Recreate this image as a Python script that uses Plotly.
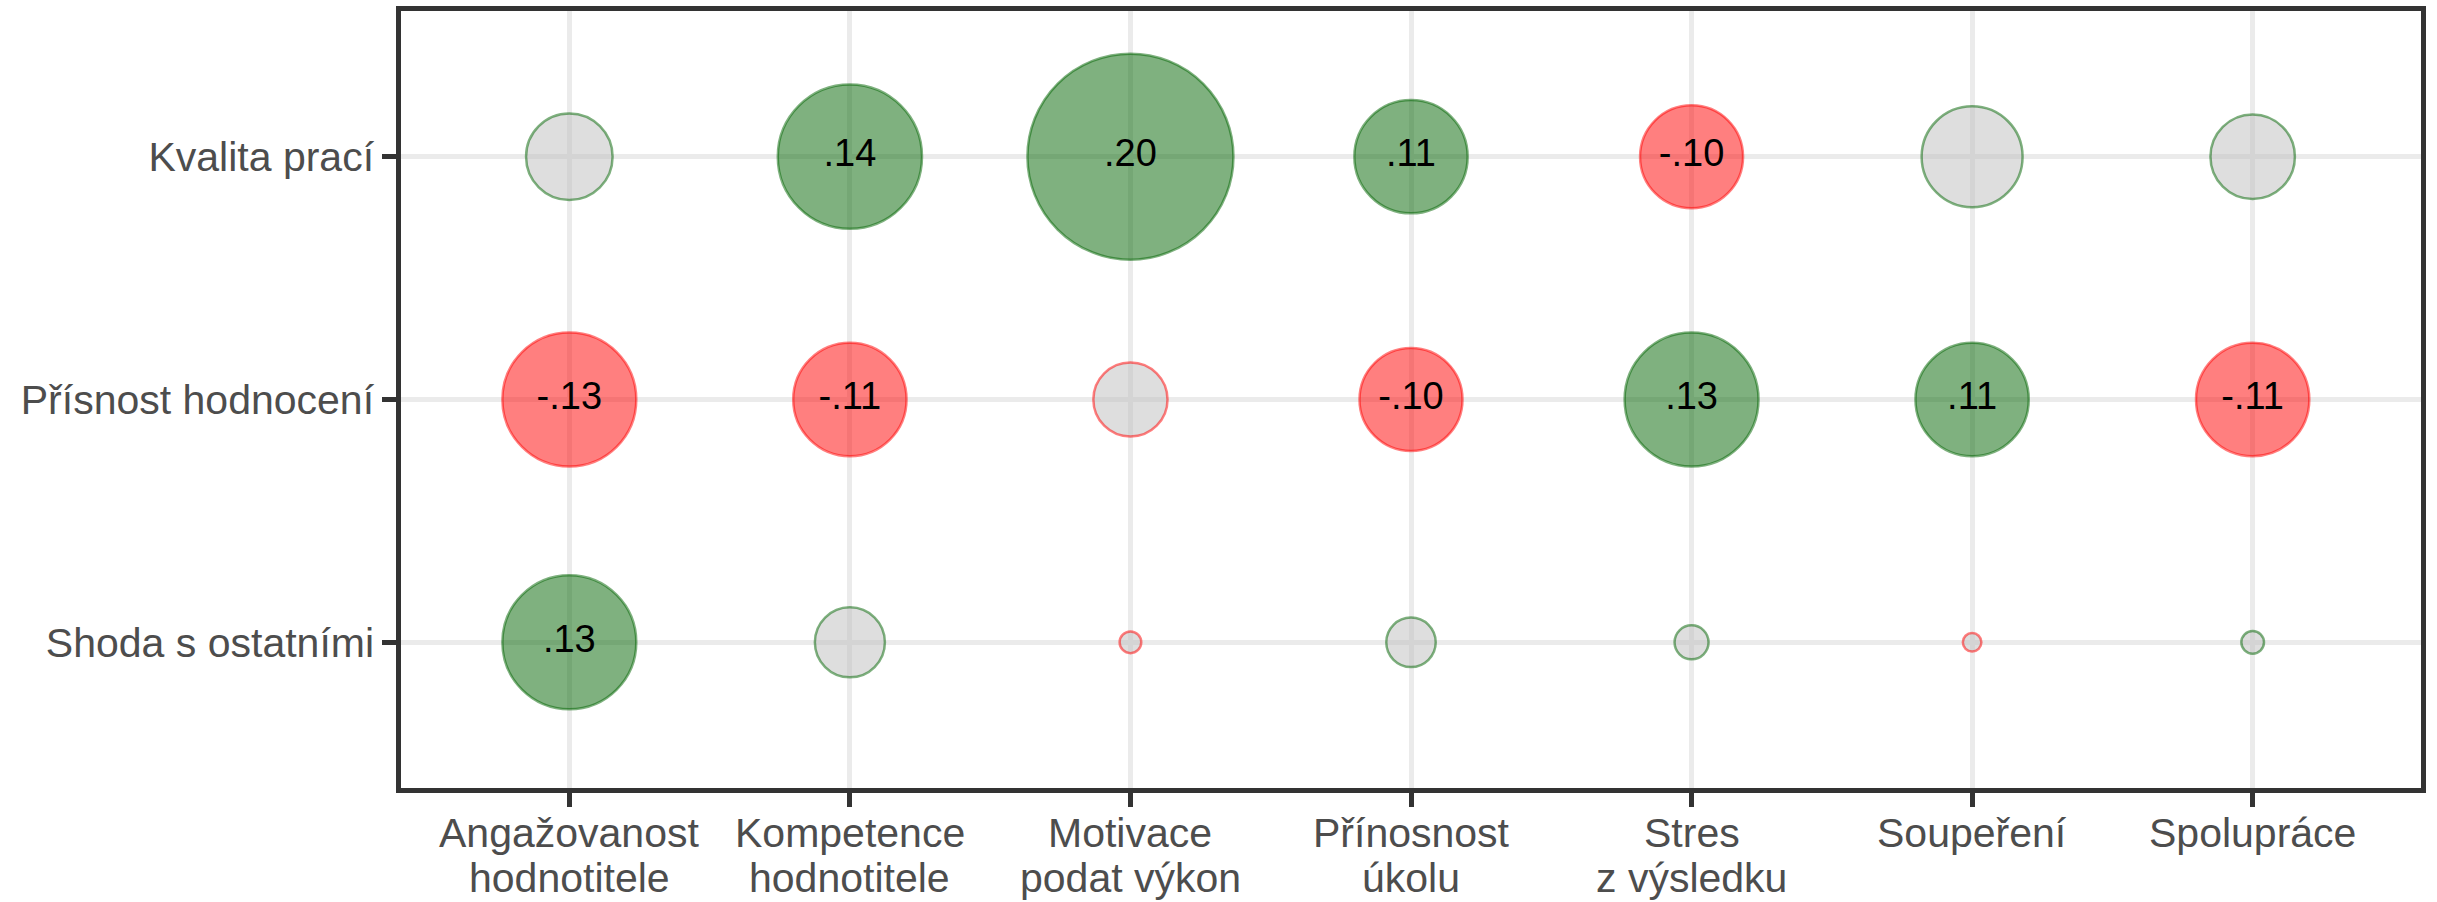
import plotly.graph_objects as go

# Predictors (columns) and outcomes (rows, listed top to bottom)
predictors = [
    "Angažovanost\nhodnotitele",
    "Kompetence\nhodnotitele",
    "Motivace\npodat výkon",
    "Přínosnost\núkolu",
    "Stres\nz výsledku",
    "Soupeření",
    "Spolupráce",
]
outcomes = ["Kvalita prací", "Přísnost hodnocení", "Shoda s ostatními"]

# Correlation coefficients, one list per outcome
r_kvalita = [0.084, 0.14, 0.20, 0.11, -0.10, 0.098, 0.082]
r_prisnost = [-0.13, -0.11, -0.072, -0.10, 0.13, 0.11, -0.11]
r_shoda = [0.13, 0.068, -0.021, 0.048, 0.033, -0.018, 0.022]

# Statistically significant cells (coloured fill + printed value)
sig_kvalita = [False, True, True, True, True, False, False]
sig_prisnost = [True, True, False, True, True, True, True]
sig_shoda = [True, False, False, False, False, False, False]

r_rows = [r_kvalita, r_prisnost, r_shoda]
sig_rows = [sig_kvalita, sig_prisnost, sig_shoda]

FONT = "Liberation Sans, Arial, Helvetica, sans-serif"
TEXT_GREY = "#4d4d4d"
FRAME = "#333333"
GRID = "#ebebeb"
LW = 4.5
SIZE_PER_R = 1030  # marker diameter (px) per unit of |r|

POS_FILL, POS_LINE = "rgba(0,100,0,0.5)", "rgba(0,100,0,0.5)"
NEG_FILL, NEG_LINE = "rgba(255,0,0,0.5)", "rgba(255,0,0,0.5)"
NS_FILL = "rgba(190,190,190,0.5)"


def fmt(v):
    s = f"{v:.2f}"
    return s.replace("0.", ".", 1)


x_cats = [p.replace("\n", " ") for p in predictors]

xs, ys, sizes, fills, lines, texts = [], [], [], [], [], []
for outcome, rvals, sigs in zip(outcomes, r_rows, sig_rows):
    for cat, r, s in zip(x_cats, rvals, sigs):
        xs.append(cat)
        ys.append(outcome)
        sizes.append(abs(r) * SIZE_PER_R)
        line = POS_LINE if r > 0 else NEG_LINE
        if s:
            fills.append(POS_FILL if r > 0 else NEG_FILL)
            texts.append(fmt(r))
        else:
            fills.append(NS_FILL)
            texts.append("")
        lines.append(line)

fig = go.Figure(
    go.Scatter(
        x=xs,
        y=ys,
        mode="markers+text",
        text=texts,
        textposition="middle center",
        textfont=dict(family=FONT, size=38, color="black"),
        marker=dict(
            size=sizes,
            sizemode="diameter",
            color=fills,
            opacity=1,
            line=dict(color=lines, width=2.5),
            symbol="circle",
        ),
        hoverinfo="skip",
        cliponaxis=False,
    )
)

# Two-line category labels under the x axis
annotations = []
for cat, label in zip(x_cats, predictors):
    for i, part in enumerate(label.split("\n")):
        annotations.append(
            dict(
                x=cat,
                xref="x",
                y=0,
                yref="paper",
                yanchor="top",
                yshift=-20 - 45 * i,
                text=part,
                showarrow=False,
                font=dict(family=FONT, size=41, color=TEXT_GREY),
            )
        )

fig.update_layout(
    width=2437,
    height=902,
    margin=dict(l=401, r=16, t=6, b=114),
    paper_bgcolor="white",
    plot_bgcolor="white",
    showlegend=False,
    annotations=annotations,
    hovermode=False,
)

fig.update_xaxes(
    type="category",
    categoryorder="array",
    categoryarray=x_cats,
    range=[-0.6, len(x_cats) - 0.4],
    showticklabels=False,
    ticks="outside",
    ticklen=14,
    tickwidth=LW,
    tickcolor=FRAME,
    showgrid=True,
    gridcolor=GRID,
    gridwidth=LW,
    showline=True,
    linecolor=FRAME,
    linewidth=LW,
    mirror=True,
    zeroline=False,
)

fig.update_yaxes(
    type="category",
    categoryorder="array",
    categoryarray=list(reversed(outcomes)),
    range=[-0.6, len(outcomes) - 0.4],
    ticks="outside",
    ticklen=14,
    tickwidth=LW,
    tickcolor=FRAME,
    tickfont=dict(family=FONT, size=41, color=TEXT_GREY),
    showgrid=True,
    gridcolor=GRID,
    gridwidth=LW,
    showline=True,
    linecolor=FRAME,
    linewidth=LW,
    mirror=True,
    zeroline=False,
)

fig.write_html("out.html")
